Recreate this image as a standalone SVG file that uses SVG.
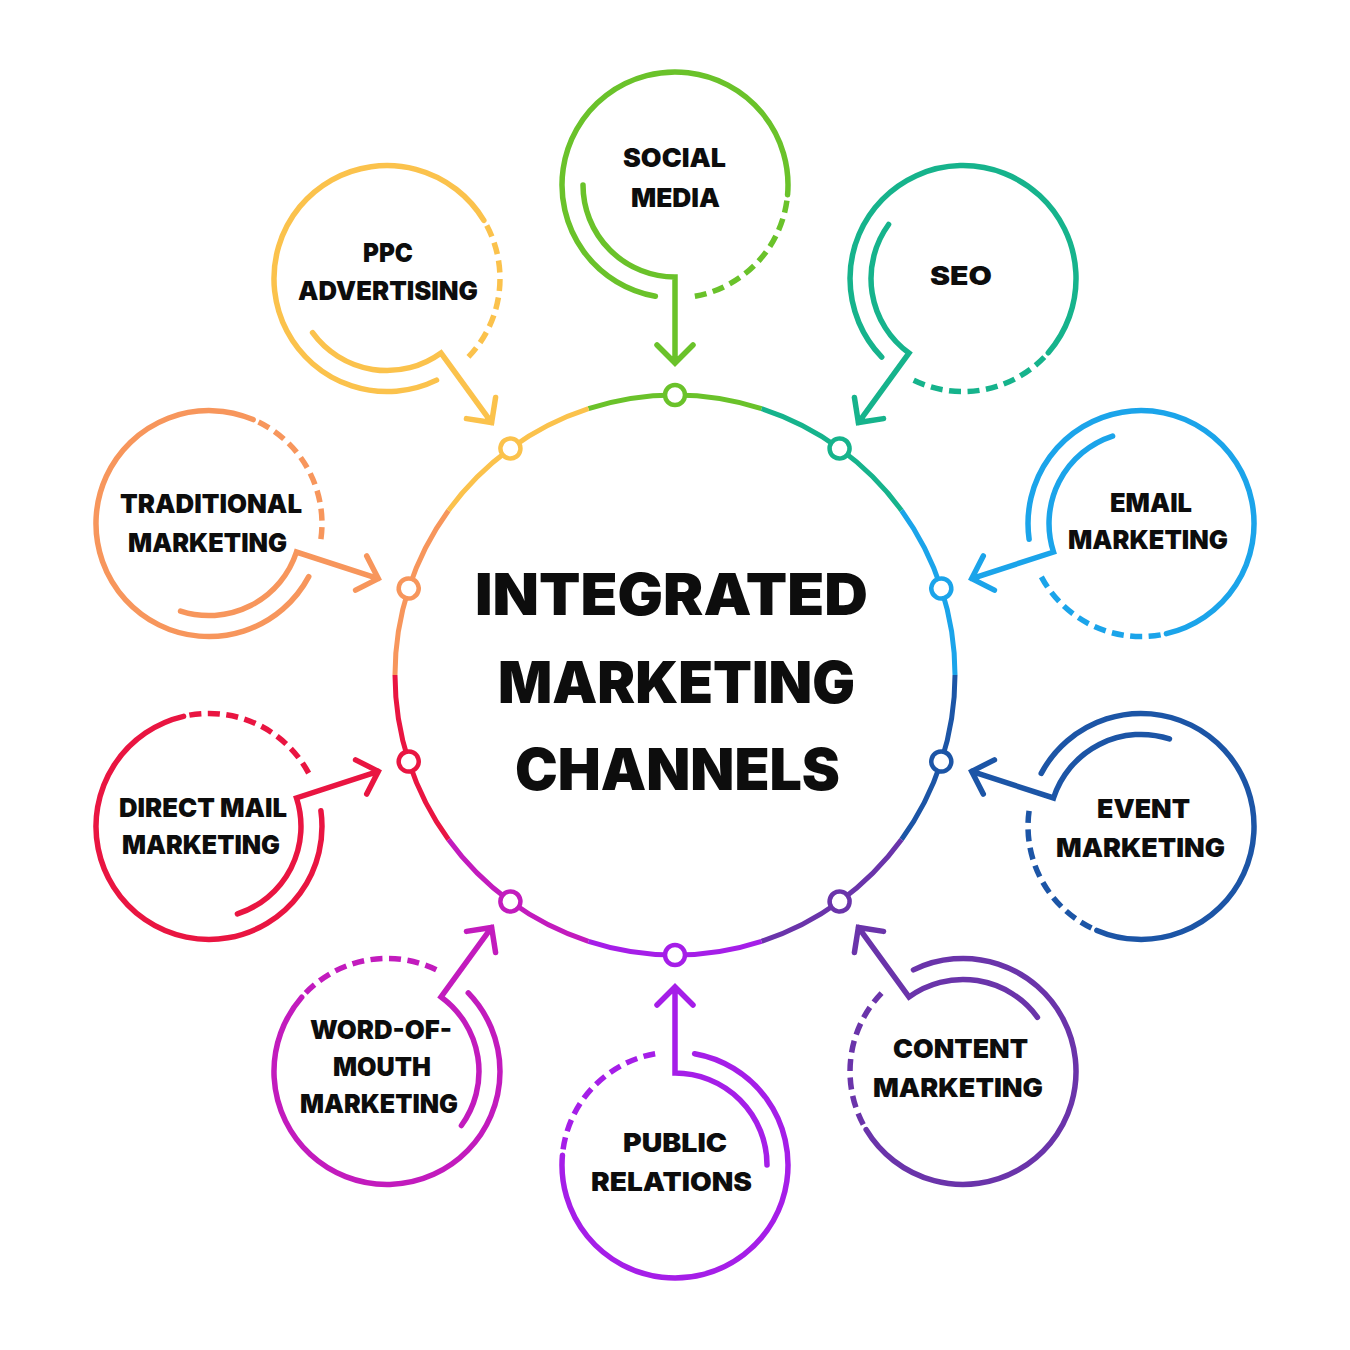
<svg xmlns="http://www.w3.org/2000/svg" xmlns:xlink="http://www.w3.org/1999/xlink" width="1350" height="1350" viewBox="0 0 1350 1350">
<style>
.lbl{font-family:Inter,"Open Sans",Lato,"Liberation Sans",sans-serif;font-weight:900;font-size:26px;fill:#0d0d0d;stroke:none}
.title{font-size:58px}
</style>
<defs>
<path id="seg" d="M 588.48 408.70 A 280 280 0 0 1 761.52 408.70" fill="none" stroke-width="5"/>
<circle id="port" cx="675" cy="395" r="10" fill="#fff" stroke-width="4.5"/>
<path id="outer" d="M -19.62 111.28 A 113 113 0 1 1 112.57 9.85" fill="none" stroke-width="5.5" stroke-linecap="round"/>
<path id="dash" d="M 112.57 9.85 A 113 113 0 0 1 19.62 111.28" fill="none" stroke-width="5.5" stroke-dasharray="12 6.5" stroke-dashoffset="12.5"/>
<path id="conn" d="M -92 0 A 92 92 0 0 0 0 92 L 0 178 M -18 160 L 0 178 L 18 160" fill="none" stroke-width="5.5" stroke-linecap="round" stroke-linejoin="miter"/>
</defs>
<rect width="1350" height="1350" fill="#fff"/>

<g id="hub">
<text class="lbl title" x="475" y="615" textLength="393" lengthAdjust="spacingAndGlyphs">INTEGRATED</text>
<text class="lbl title" x="498" y="703" textLength="357" lengthAdjust="spacingAndGlyphs">MARKETING</text>
<text class="lbl title" x="515" y="790" textLength="325" lengthAdjust="spacingAndGlyphs">CHANNELS</text>
</g>

<g id="node-social-media" stroke="#6ac22a">
<use href="#seg" transform="rotate(0 675 675)"/>
<use href="#port" transform="rotate(0 675 675)"/>
<use href="#outer" transform="rotate(0 675 675) translate(675 185)"/>
<use href="#dash" transform="rotate(0 675 675) translate(675 185)"/>
<text class="lbl" x="623" y="167" textLength="103" lengthAdjust="spacingAndGlyphs">SOCIAL</text>
<text class="lbl" x="631" y="207" textLength="89" lengthAdjust="spacingAndGlyphs">MEDIA</text>
</g>

<g id="node-seo" stroke="#16b38c">
<use href="#seg" transform="rotate(36 675 675)"/>
<use href="#port" transform="rotate(36 675 675)"/>
<use href="#outer" transform="rotate(36 675 675) translate(675 185)"/>
<use href="#dash" transform="rotate(36 675 675) translate(675 185)"/>
<text class="lbl" x="930" y="285" textLength="62" lengthAdjust="spacingAndGlyphs">SEO</text>
</g>

<g id="node-email-marketing" stroke="#1ba4ea">
<use href="#seg" transform="rotate(72 675 675)"/>
<use href="#port" transform="rotate(72 675 675)"/>
<use href="#outer" transform="rotate(72 675 675) translate(675 185)"/>
<use href="#dash" transform="rotate(72 675 675) translate(675 185)"/>
<text class="lbl" x="1110" y="512" textLength="82" lengthAdjust="spacingAndGlyphs">EMAIL</text>
<text class="lbl" x="1068" y="549" textLength="160" lengthAdjust="spacingAndGlyphs">MARKETING</text>
</g>

<g id="node-event-marketing" stroke="#1c55a6">
<use href="#seg" transform="rotate(108 675 675)"/>
<use href="#port" transform="rotate(108 675 675)"/>
<use href="#outer" transform="rotate(108 675 675) translate(675 185)"/>
<use href="#dash" transform="rotate(108 675 675) translate(675 185)"/>
<text class="lbl" x="1097" y="818" textLength="93" lengthAdjust="spacingAndGlyphs">EVENT</text>
<text class="lbl" x="1056" y="857" textLength="169" lengthAdjust="spacingAndGlyphs">MARKETING</text>
</g>

<g id="node-content-marketing" stroke="#6a34aa">
<use href="#seg" transform="rotate(144 675 675)"/>
<use href="#port" transform="rotate(144 675 675)"/>
<use href="#outer" transform="rotate(144 675 675) translate(675 185)"/>
<use href="#dash" transform="rotate(144 675 675) translate(675 185)"/>
<text class="lbl" x="893" y="1058" textLength="135" lengthAdjust="spacingAndGlyphs">CONTENT</text>
<text class="lbl" x="873" y="1097" textLength="170" lengthAdjust="spacingAndGlyphs">MARKETING</text>
</g>

<g id="node-public-relations" stroke="#a51ee8">
<use href="#seg" transform="rotate(180 675 675)"/>
<use href="#port" transform="rotate(180 675 675)"/>
<use href="#outer" transform="rotate(180 675 675) translate(675 185)"/>
<use href="#dash" transform="rotate(180 675 675) translate(675 185)"/>
<text class="lbl" x="623" y="1152" textLength="104" lengthAdjust="spacingAndGlyphs">PUBLIC</text>
<text class="lbl" x="591" y="1191" textLength="161" lengthAdjust="spacingAndGlyphs">RELATIONS</text>
</g>

<g id="node-word-of-mouth-marketing" stroke="#c21bbd">
<use href="#seg" transform="rotate(216 675 675)"/>
<use href="#port" transform="rotate(216 675 675)"/>
<use href="#outer" transform="rotate(216 675 675) translate(675 185)"/>
<use href="#dash" transform="rotate(216 675 675) translate(675 185)"/>
<text class="lbl" x="310" y="1039" textLength="142" lengthAdjust="spacingAndGlyphs">WORD-OF-</text>
<text class="lbl" x="333" y="1076" textLength="98" lengthAdjust="spacingAndGlyphs">MOUTH</text>
<text class="lbl" x="300" y="1113" textLength="158" lengthAdjust="spacingAndGlyphs">MARKETING</text>
</g>

<g id="node-direct-mail-marketing" stroke="#e91541">
<use href="#seg" transform="rotate(252 675 675)"/>
<use href="#port" transform="rotate(252 675 675)"/>
<use href="#outer" transform="rotate(252 675 675) translate(675 185)"/>
<use href="#dash" transform="rotate(252 675 675) translate(675 185)"/>
<text class="lbl" x="119" y="817" textLength="168" lengthAdjust="spacingAndGlyphs">DIRECT MAIL</text>
<text class="lbl" x="122" y="854" textLength="158" lengthAdjust="spacingAndGlyphs">MARKETING</text>
</g>

<g id="node-traditional-marketing" stroke="#f7965c">
<use href="#seg" transform="rotate(288 675 675)"/>
<use href="#port" transform="rotate(288 675 675)"/>
<use href="#outer" transform="rotate(288 675 675) translate(675 185)"/>
<use href="#dash" transform="rotate(288 675 675) translate(675 185)"/>
<text class="lbl" x="120" y="513" textLength="182" lengthAdjust="spacingAndGlyphs">TRADITIONAL</text>
<text class="lbl" x="128" y="552" textLength="159" lengthAdjust="spacingAndGlyphs">MARKETING</text>
</g>

<g id="node-ppc-advertising" stroke="#fbc24c">
<use href="#seg" transform="rotate(324 675 675)"/>
<use href="#port" transform="rotate(324 675 675)"/>
<use href="#outer" transform="rotate(324 675 675) translate(675 185)"/>
<use href="#dash" transform="rotate(324 675 675) translate(675 185)"/>
<text class="lbl" x="363" y="262" textLength="50" lengthAdjust="spacingAndGlyphs">PPC</text>
<text class="lbl" x="298" y="300" textLength="180" lengthAdjust="spacingAndGlyphs">ADVERTISING</text>
</g>

<g id="connectors">
<use href="#conn" stroke="#6ac22a" transform="rotate(0 675 675) translate(675 185)"/>
<use href="#conn" stroke="#16b38c" transform="rotate(36 675 675) translate(675 185)"/>
<use href="#conn" stroke="#1ba4ea" transform="rotate(72 675 675) translate(675 185)"/>
<use href="#conn" stroke="#1c55a6" transform="rotate(108 675 675) translate(675 185)"/>
<use href="#conn" stroke="#6a34aa" transform="rotate(144 675 675) translate(675 185)"/>
<use href="#conn" stroke="#a51ee8" transform="rotate(180 675 675) translate(675 185)"/>
<use href="#conn" stroke="#c21bbd" transform="rotate(216 675 675) translate(675 185)"/>
<use href="#conn" stroke="#e91541" transform="rotate(252 675 675) translate(675 185)"/>
<use href="#conn" stroke="#f7965c" transform="rotate(288 675 675) translate(675 185)"/>
<use href="#conn" stroke="#fbc24c" transform="rotate(324 675 675) translate(675 185)"/>
</g>
</svg>
